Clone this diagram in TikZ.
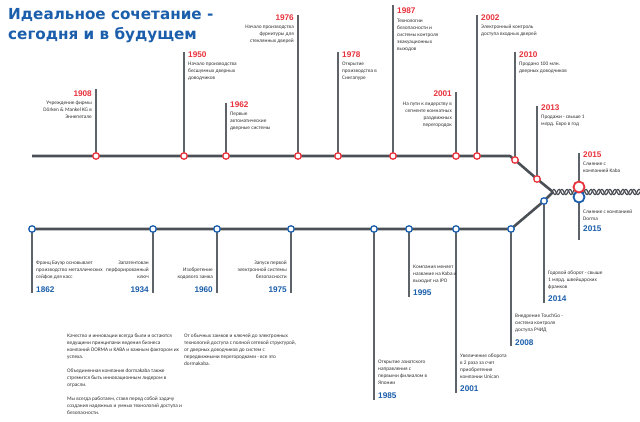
\documentclass[tikz,border=0pt]{standalone}
\usepackage{fontspec}
\setmainfont{Carlito}
\newfontfamily\titlefont{DejaVu Sans}
\newfontfamily\yearfont{Liberation Sans}
\usetikzlibrary{backgrounds}
\definecolor{dkred}{HTML}{E8323C}
\definecolor{dkblue}{HTML}{1B5EAB}
\definecolor{railgray}{HTML}{4B5056}
\definecolor{stemgray}{HTML}{5E6369}
\definecolor{txtgray}{HTML}{333333}
\begin{document}
\begin{tikzpicture}[x=1pt,y=-1pt,
  railline/.style={draw=railgray,line width=2.6pt},
  ropeline/.style={draw=railgray,line width=1.2pt},
  stemline/.style={draw=stemgray,line width=1.4pt},
  rst/.style={circle,draw=dkred,fill=white,line width=1.3pt,minimum size=6.5pt,inner sep=0},
  bst/.style={circle,draw=dkblue,fill=white,line width=1.3pt,minimum size=6.5pt,inner sep=0},
  rbig/.style={circle,draw=dkred,fill=white,line width=1.8pt,minimum size=11pt,inner sep=0},
  bbig/.style={circle,draw=dkblue,fill=white,line width=1.8pt,minimum size=11pt,inner sep=0},
  ryr/.style={font=\yearfont\bfseries\fontsize{8.2}{9}\selectfont,text=dkred,inner sep=0},
  byr/.style={font=\yearfont\bfseries\fontsize{8.2}{9}\selectfont,text=dkblue,inner sep=0},
  txt/.style={font=\fontsize{5.3}{7}\selectfont,text=txtgray,inner sep=0,align=left,anchor=north west},
  txtr/.style={font=\fontsize{5.3}{7}\selectfont,text=txtgray,inner sep=0,align=right,anchor=north east},
  para/.style={font=\fontsize{5.3}{7}\selectfont,text=txtgray,inner sep=0,align=left,anchor=north west},
]
\useasboundingbox (0,0) rectangle (640,422);

% title
\node[anchor=north west,inner sep=0,align=left,text=dkblue,
      font=\titlefont\bfseries\fontsize{15.2}{20}\selectfont] (title) at (8,8)
  {Идеальное сочетание -\\сегодня и в будущем};

% junction and line ends
\coordinate (tL) at (32,156);
\coordinate (tK) at (510,156);
\coordinate (J) at (553,192);
\coordinate (E) at (640,192);

% top (red) stations
\node[rst] (r1908) at (96,156) {};
\node[rst] (r1950) at (184,156) {};
\node[rst] (r1962) at (226,156) {};
\node[rst] (r1976) at (298,156) {};
\node[rst] (r1978) at (338,156) {};
\node[rst] (r1987) at (393,156) {};
\node[rst] (r2001) at (456,156) {};
\node[rst] (r2002) at (477,156) {};
\node[rst] (r2010) at (515,160) {};
\node[rst] (r2013) at (537,179) {};

% bottom (blue) stations
\node[bst] (b1862) at (32,229) {};
\node[bst] (b1934) at (153,229) {};
\node[bst] (b1960) at (217,229) {};
\node[bst] (b1975) at (291,229) {};
\node[bst] (b1985) at (374,229) {};
\node[bst] (b1995) at (409,229) {};
\node[bst] (b2001) at (456,229) {};
\node[bst] (b2008) at (511,229) {};
\node[bst] (b2014) at (544,201) {};

% merger stations
\node[bbig] (b2015) at (579,197) {};
\node[rbig] (r2015) at (579,187) {};

% stem ends
\coordinate (e1908) at (96,89);
\coordinate (e1950) at (184,52);
\coordinate (e1962) at (226,103);
\coordinate (e1976) at (298,15);
\coordinate (e1978) at (338,52);
\coordinate (e1987) at (393,5);
\coordinate (e2001) at (456,92);
\coordinate (e2002) at (477,15);
\coordinate (e2010) at (515,52);
\coordinate (e2013) at (537,106);
\coordinate (e2015r) at (579,153);
\coordinate (f1862) at (32,293);
\coordinate (f1934) at (153,293);
\coordinate (f1960) at (217,293);
\coordinate (f1975) at (291,293);
\coordinate (f1985) at (374,400);
\coordinate (f1995) at (409,297);
\coordinate (f2001) at (456,393);
\coordinate (f2008) at (511,346);
\coordinate (f2014) at (544,303);
\coordinate (f2015b) at (579,240);

% top labels
\node[ryr,anchor=east] (y1908) at (92,94) {1908};
\node[txtr] (t1908) at (92,101) {Учреждение фирмы\\Dörken \& Mankel KG в\\Эннепетале};
\node[ryr,anchor=west] (y1950) at (188,55) {1950};
\node[txt] (t1950) at (188,62) {Начало производства\\бесшумных дверных\\доводчиков};
\node[ryr,anchor=west] (y1962) at (230,105) {1962};
\node[txt] (t1962) at (230,112) {Первые\\автоматические\\дверные системы};
\node[ryr,anchor=east] (y1976) at (294,18) {1976};
\node[txtr] (t1976) at (294,25) {Начало производства\\фурнитуры для\\стеклянных дверей};
\node[ryr,anchor=west] (y1978) at (342,55) {1978};
\node[txt] (t1978) at (342,62) {Открытие\\производства в\\Сингапуре};
\node[ryr,anchor=west] (y1987) at (397,11) {1987};
\node[txt] (t1987) at (397,19) {Технологии\\безопасности и\\системы контроля\\эвакуационных\\выходов};
\node[ryr,anchor=east] (y2001r) at (452,94) {2001};
\node[txtr] (t2001r) at (452,102) {На пути к лидерству в\\сегменте комнатных\\раздвижных\\перегородок};
\node[ryr,anchor=west] (y2002) at (481,18) {2002};
\node[txt] (t2002) at (481,25) {Электронный контроль\\доступа входных дверей};
\node[ryr,anchor=west] (y2010) at (519,55) {2010};
\node[txt] (t2010) at (519,62) {Продано 100 млн.\\дверных доводчиков};
\node[ryr,anchor=west] (y2013) at (541,108) {2013};
\node[txt] (t2013) at (541,115) {Продажи  - свыше 1\\млрд. Евро в год};
\node[ryr,anchor=west] (y2015r) at (583,155) {2015};
\node[txt] (t2015r) at (583,162) {Слияние с\\компанией  Kaba};

% bottom labels
\node[txt] (t1862) at (36,261) {Франц Бауэр основывает\\производство металлических\\сейфов для касс};
\node[byr,anchor=west] (y1862) at (36,290) {1862};
\node[txtr] (t1934) at (149,261) {Запатентован\\перфорированный\\ключ};
\node[byr,anchor=east] (y1934) at (149,290) {1934};
\node[txtr] (t1960) at (213,268) {Изобретение\\кодового замка};
\node[byr,anchor=east] (y1960) at (213,290) {1960};
\node[txtr] (t1975) at (287,261) {Запуск первой\\электронной системы\\безопасности};
\node[byr,anchor=east] (y1975) at (287,290) {1975};
\node[txt] (t1985) at (378,360) {Открытие азиатского\\направления с\\первыми филиалом в\\Японии};
\node[byr,anchor=west] (y1985) at (378,396) {1985};
\node[txt] (t1995) at (413,265) {Компания меняет\\название на  Kaba и\\выходит на IPO};
\node[byr,anchor=west] (y1995) at (413,293) {1995};
\node[txt] (t2001b) at (460,354) {Увеличение оборота\\в 2 раза за счет\\приобретения\\компании Unican};
\node[byr,anchor=west] (y2001b) at (460,389) {2001};
\node[txt] (t2008) at (515,314) {Внедрение TouchGo -\\система контроля\\доступа РЧИД};
\node[byr,anchor=west] (y2008) at (515,343) {2008};
\node[txt] (t2014) at (548,271) {Годовой оборот - свыше\\1 млрд. швейцарских\\франков};
\node[byr,anchor=west] (y2014) at (548,299) {2014};
\node[txt] (t2015b) at (583,210) {Слияние с компанией\\Dorma};
\node[byr,anchor=west] (y2015b) at (583,229) {2015};

% paragraphs
\node[para] (p1) at (67,334) {Качество и инновации всегда были и остаются\\ведущими принципами ведения бизнеса\\компаний DORMA и KABA и важным фактором их\\успеха.\\[7pt]Объединенная компания dormakaba также\\стремится быть инновационным лидером в\\отрасли.\\[7pt]Мы всегда работаем, ставя перед собой задачу\\создания надежных и умных технологий доступа и\\безопасности.};
\node[para] (p2) at (184,334) {От  обычных замков и ключей до электронных\\технологий доступа с полной сетевой структурой,\\от дверных доводчиков до систем с\\передвижными перегородками - все это\\dormakaba.};

\begin{pgfonlayer}{background}
  \fill[white] (0,0) rectangle (640,422);
  % rails
  \draw[railline,line join=round] (tL) -- (r1908.center) -- (r1950.center) -- (r1962.center) -- (r1976.center)
     -- (r1978.center) -- (r1987.center) -- (r2001.center) -- (r2002.center) -- (tK)
     -- (r2010.center) -- (r2013.center) -- (J);
  \draw[railline,line join=round] (b1862.center) -- (b1934.center) -- (b1960.center) -- (b1975.center)
     -- (b1985.center) -- (b1995.center) -- (b2001.center) -- (b2008.center) -- (b2014.center) -- (J);
  % twisted rope after merger
  \draw[ropeline] plot[domain=0:87,samples=160] ({553+\x},{192+2.6*sin(45*\x)});
  \draw[ropeline] plot[domain=0:87,samples=160] ({553+\x},{192-2.6*sin(45*\x+50)});
  % stems
  \foreach \s in {1908,1950,1962,1976,1978,1987,2001,2002,2010,2013}
    \draw[stemline] (r\s.center) -- (e\s);
  \draw[stemline] (r2015.center) -- (e2015r);
  \foreach \s in {1862,1934,1960,1975,1985,1995,2001,2008,2014}
    \draw[stemline] (b\s.center) -- (f\s);
  \draw[stemline] (b2015.center) -- (f2015b);
\end{pgfonlayer}
\end{tikzpicture}
\end{document}
